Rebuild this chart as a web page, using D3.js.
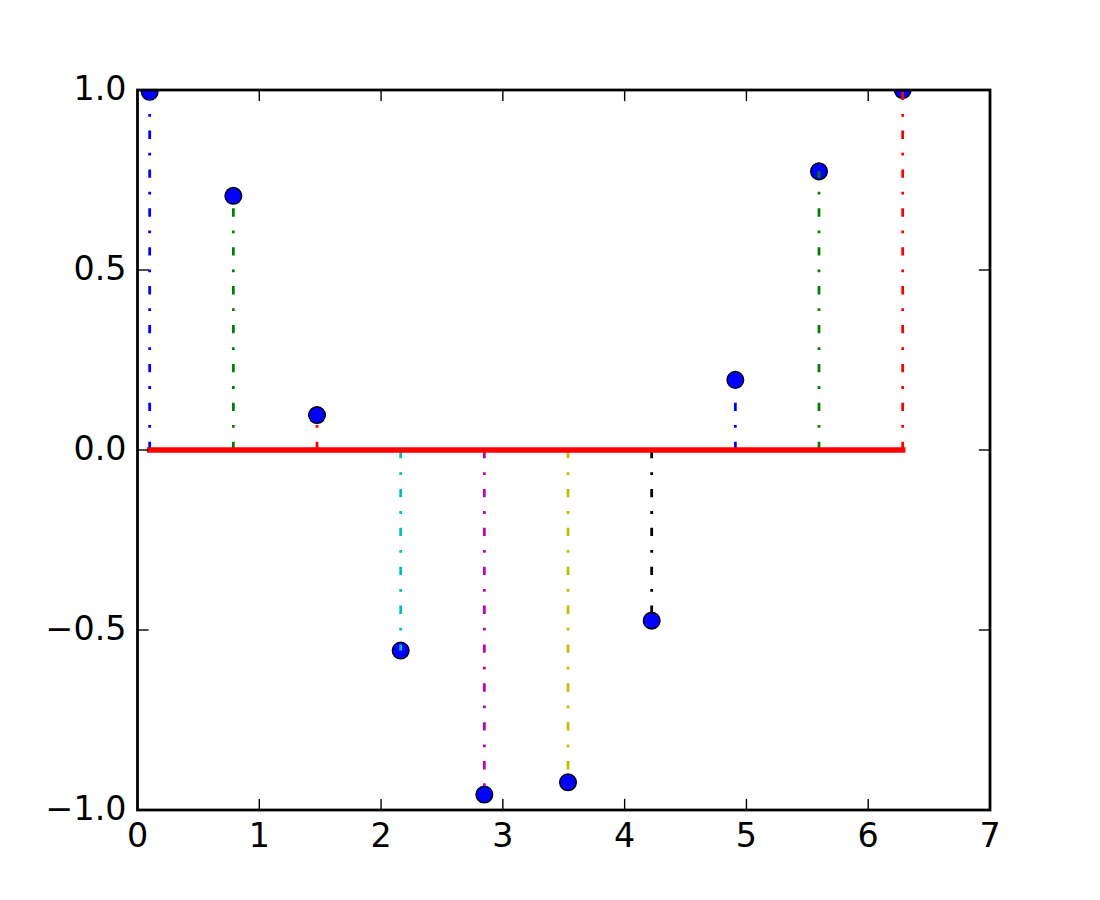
<!DOCTYPE html>
<html>
<head>
<meta charset="utf-8">
<script src="https://cdn.jsdelivr.net/npm/d3@7"></script>
<style>
  html, body { margin: 0; padding: 0; background: #fff; }
  svg { display: block; }
  text { font-family: "DejaVu Sans", sans-serif; }
</style>
</head>
<body>
<svg id="chart" width="1100" height="900"></svg>
<script>
// ---- data ----
const xValues = [0.1, 0.787, 1.474, 2.161, 2.848, 3.535, 4.222, 4.909, 5.596, 6.283];
const yValues = [0.995, 0.706, 0.097, -0.557, -0.957, -0.923, -0.474, 0.195, 0.774, 1.0];
const stemColors = ["#0000ff", "#008000", "#ff0000", "#00bfbf", "#bf00bf", "#bfbf00", "#000000", "#0000ff", "#008000", "#ff0000"];
const xTicks = [0, 1, 2, 3, 4, 5, 6, 7];
const yTicks = [-1.0, -0.5, 0.0, 0.5, 1.0];
const xDomain = [0, 7];
const yDomain = [-1, 1];
const baselineValue = 0;

(function () {
// ---- layout ----
const mLeft = 137.5, mRight = 990, mTop = 90, mBottom = 810;
const pt = 200 / 72;

const svg = d3.select("#chart");
const x = d3.scaleLinear().domain(xDomain).range([mLeft, mRight]);
const y = d3.scaleLinear().domain(yDomain).range([mBottom, mTop]);

svg.append("defs").append("clipPath").attr("id", "clip")
  .append("rect").attr("x", mLeft).attr("y", mTop).attr("width", mRight - mLeft).attr("height", mBottom - mTop);

const plot = svg.append("g").attr("clip-path", "url(#clip)");

const pts = xValues.map((v, i) => ({x: v, y: yValues[i], c: stemColors[i]}));

// markers
plot.selectAll("circle.m").data(pts).enter().append("circle")
  .attr("class", "m")
  .attr("cx", d => x(d.x)).attr("cy", d => y(d.y))
  .attr("r", 3 * pt)
  .attr("fill", "#0000ff").attr("stroke", "#000").attr("stroke-width", 0.5 * pt);

// stems
plot.selectAll("line.s").data(pts).enter().append("line")
  .attr("class", "s")
  .attr("x1", d => x(d.x)).attr("x2", d => x(d.x))
  .attr("y1", y(baselineValue)).attr("y2", d => y(d.y))
  .attr("stroke", d => d.c).attr("stroke-width", 1 * pt)
  .attr("stroke-dasharray", [3 * pt, 5 * pt, 1 * pt, 5 * pt].join(","));

// baseline
plot.append("line")
  .attr("x1", x(d3.min(xValues))).attr("x2", x(d3.max(xValues)))
  .attr("y1", y(baselineValue)).attr("y2", y(baselineValue))
  .attr("stroke", "#ff0000").attr("stroke-width", 2 * pt)
  .attr("stroke-linecap", "square");

// ticks (inside, all four sides)
const tickLen = 4 * pt, tickW = 0.5 * pt;
const tg = svg.append("g");
xTicks.forEach(t => {
  tg.append("line").attr("x1", x(t)).attr("x2", x(t)).attr("y1", mBottom).attr("y2", mBottom - tickLen)
    .attr("stroke", "#000").attr("stroke-width", tickW);
  tg.append("line").attr("x1", x(t)).attr("x2", x(t)).attr("y1", mTop).attr("y2", mTop + tickLen)
    .attr("stroke", "#000").attr("stroke-width", tickW);
  tg.append("text").attr("x", x(t)).attr("y", mBottom + 36.5)
    .attr("text-anchor", "middle").attr("font-size", 12 * pt).attr("fill", "#000")
    .text(d3.format("d")(t));
});
yTicks.forEach(t => {
  tg.append("line").attr("x1", mLeft).attr("x2", mLeft + tickLen).attr("y1", y(t)).attr("y2", y(t))
    .attr("stroke", "#000").attr("stroke-width", tickW);
  tg.append("line").attr("x1", mRight).attr("x2", mRight - tickLen).attr("y1", y(t)).attr("y2", y(t))
    .attr("stroke", "#000").attr("stroke-width", tickW);
  tg.append("text").attr("x", mLeft - 11).attr("y", y(t) + 10)
    .attr("text-anchor", "end").attr("font-size", 12 * pt).attr("fill", "#000")
    .text(d3.format(".1f")(t).replace("-", "\u2212"));
});

// spines
svg.append("rect").attr("x", mLeft).attr("y", mTop).attr("width", mRight - mLeft).attr("height", mBottom - mTop)
  .attr("fill", "none").attr("stroke", "#000").attr("stroke-width", 1 * pt);
})();
</script>
</body>
</html>
